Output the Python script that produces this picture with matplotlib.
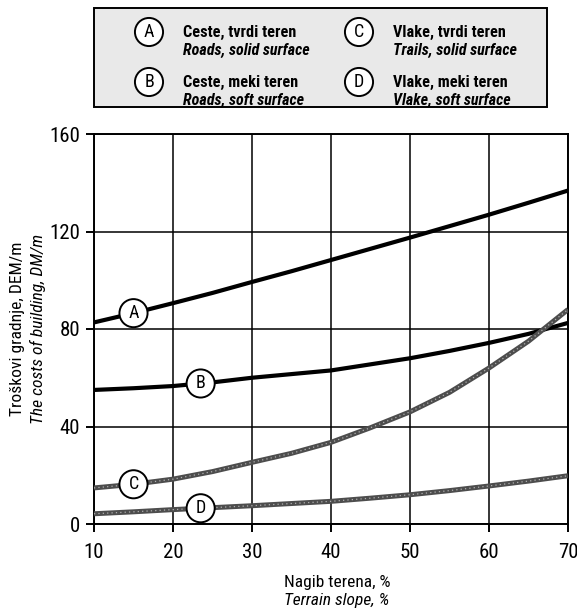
import numpy as np
import matplotlib
matplotlib.use("Agg")
import matplotlib.pyplot as plt
from matplotlib import font_manager
from matplotlib.patches import Rectangle

# slope in %, cost in DM/m
slope = [10, 15, 20, 25, 30, 35, 40, 45, 50, 55, 60, 65, 70]
cost_A = [82.7, 86.5, 90.6, 94.8, 99.3, 103.7, 108.3, 112.9, 117.5, 122.2, 126.9, 131.8, 136.8]
cost_B = [55.0, 55.7, 56.6, 58.1, 60.0, 61.5, 63.0, 65.5, 68.0, 71.0, 74.3, 78.0, 82.5]
cost_C = [14.8, 16.3, 18.4, 21.5, 25.3, 29.0, 33.5, 39.5, 46.0, 54.0, 64.0, 75.0, 88.0]
cost_D = [4.2, 5.0, 5.9, 6.7, 7.5, 8.4, 9.3, 10.6, 12.0, 13.7, 15.6, 17.6, 19.8]

series_keys = ["A", "B", "C", "D"]
label_x = [15, 23.5, 15, 23.5]  # where the circled letter sits on each curve
legend_hr = ["Ceste, tvrdi teren", "Ceste, meki teren", "Vlake, tvrdi teren", "Vlake, meki teren"]
legend_en = ["Roads, solid surface", "Roads, soft surface", "Trails, solid surface", "Vlake, soft surface"]

xticks = [10, 20, 30, 40, 50, 60, 70]
yticks = [0, 40, 80, 120, 160]

# look for a narrow face, the scan uses a condensed grotesque
fonts = font_manager.fontManager.ttflist
names = {f.name for f in fonts}
family = None
stretch = "normal"
for cand in ["Liberation Sans Narrow", "Roboto Condensed", "Open Sans Condensed",
             "Noto Sans Condensed", "DejaVu Sans Condensed"]:
    if cand in names:
        family = cand
        break
if family is None:
    for f in fonts:
        if f.name in ("Noto Sans", "Open Sans", "Roboto", "DejaVu Sans") and \
                f.stretch in ("condensed", "semi-condensed", "extra-condensed"):
            family = f.name
            stretch = "condensed"
            break
if family is None:
    family = "Roboto" if "Roboto" in names else "Liberation Sans"
plt.rcParams["font.family"] = [family, "DejaVu Sans"]
plt.rcParams["font.stretch"] = stretch

fig = plt.figure(figsize=(5.77, 6.08), dpi=100)
ax = fig.add_axes([94 / 577, 1 - 524 / 608, 474 / 577, 390 / 608])

ax.set_xlim(10, 70)
ax.set_ylim(0, 160)
ax.set_xticks(xticks)
ax.set_yticks(yticks)
ax.grid(True, color="black", lw=1.1)
ax.set_axisbelow(True)
for s in ax.spines.values():
    s.set_linewidth(1.4)
ax.tick_params(length=6, width=1.4, labelsize=15)
ax.tick_params(axis="x", pad=8)
ax.tick_params(axis="y", pad=4)

all_costs = [cost_A, cost_B, cost_C, cost_D]
for key, ys, lx in zip(series_keys, all_costs, label_x):
    if key in ("A", "B"):
        ax.plot(slope, ys, color="black", lw=3, solid_capstyle="butt", zorder=3)
    else:
        ax.plot(slope, ys, color="#4d4d4d", lw=3.6, solid_capstyle="butt", zorder=3)
        ax.plot(slope, ys, color="#b0b0b0", lw=0.9, ls=(0, (1, 2.5)), zorder=3)
    ly = np.interp(lx, slope, ys)
    ax.text(lx, ly, key, ha="center", va="center", fontsize=13, zorder=5,
            bbox=dict(boxstyle="circle,pad=0.28", fc="white", ec="black", lw=1.4))

# axis titles, two languages
fig.text(18 / 577, 1 - 329 / 608, "Troškovi gradnje, DEM/m", rotation=90,
         ha="center", va="center", fontsize=12.6)
fig.text(38 / 577, 1 - 329 / 608, "The costs of building, DM/m", rotation=90,
         ha="center", va="center", fontsize=12.6, style="italic")
fig.text(337 / 577, 1 - 582 / 608, "Nagib terena, %", ha="center", va="center", fontsize=12.5)
fig.text(337 / 577, 1 - 600 / 608, "Terrain slope, %", ha="center", va="center",
         fontsize=12.5, style="italic")

# legend box at the top
fig.patches.append(Rectangle((94 / 577, 1 - 107 / 608), 453 / 577, 99 / 608,
                             transform=fig.transFigure, fc="#e9e9e9", ec="black", lw=1.4))
cx = [149, 149, 359, 359]
cy = [32, 82, 32, 82]
for key, hr, en, x, y in zip(series_keys, legend_hr, legend_en, cx, cy):
    fig.text(x / 577, 1 - y / 608, key, ha="center", va="center", fontsize=13,
             bbox=dict(boxstyle="circle,pad=0.28", fc="white", ec="black", lw=1.4))
    fig.text((x + 34) / 577, 1 - y / 608, hr, ha="left", va="center",
             fontsize=11.7, fontweight="bold")
    fig.text((x + 34) / 577, 1 - (y + 18) / 608, en, ha="left", va="center",
             fontsize=11.5, fontweight="bold", style="italic")

fig.savefig("out.png", dpi=100)
